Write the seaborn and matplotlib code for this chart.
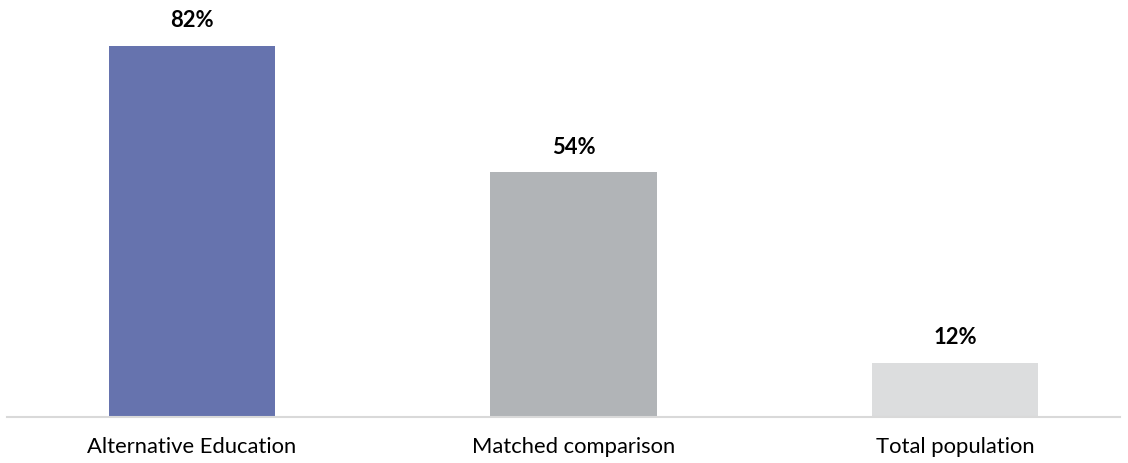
import matplotlib
matplotlib.use("Agg")
import matplotlib.pyplot as plt
import seaborn as sns
import pandas as pd

categories = ["Alternative Education", "Matched comparison", "Total population"]
values = [82, 54, 12]
value_labels = ["82%", "54%", "12%"]
colors = ["#6673AE", "#B1B4B7", "#DCDDDE"]

sns.set_theme(style="white")
plt.rcParams["font.family"] = ["Lato", "DejaVu Sans"]

df = pd.DataFrame({"category": categories, "value": values})

fig = plt.figure(figsize=(11.28, 4.64), dpi=100)
ax = fig.add_axes([7 / 1128, 46 / 464, 1113 / 1128, 418 / 464])

sns.barplot(data=df, x="category", y="value", hue="category",
            palette=colors, width=0.436, legend=False, ax=ax,
            saturation=1, linewidth=0)

for patch, lab, v in zip(ax.patches, value_labels, values):
    cx = patch.get_x() + patch.get_width() / 2
    ax.annotate(lab, xy=(cx, v), xytext=(0, 18.5), textcoords="offset points",
                ha="center", va="center", fontsize=15.8, fontweight="bold",
                color="#000000")

ax.set_ylim(0, 92.3)
ax.set_xlim(-0.485, 2.432)
ax.set_xlabel("")
ax.set_ylabel("")
ax.set_yticks([])
ax.tick_params(axis="x", length=0, pad=14, labelsize=15.8, labelcolor="#000000")
for s in ["top", "right", "left"]:
    ax.spines[s].set_visible(False)
ax.spines["bottom"].set_color("#D9D9D9")
ax.spines["bottom"].set_linewidth(1.5)
ax.set_facecolor("white")
fig.patch.set_facecolor("white")

fig.savefig("out.png", dpi=100, facecolor="white")
